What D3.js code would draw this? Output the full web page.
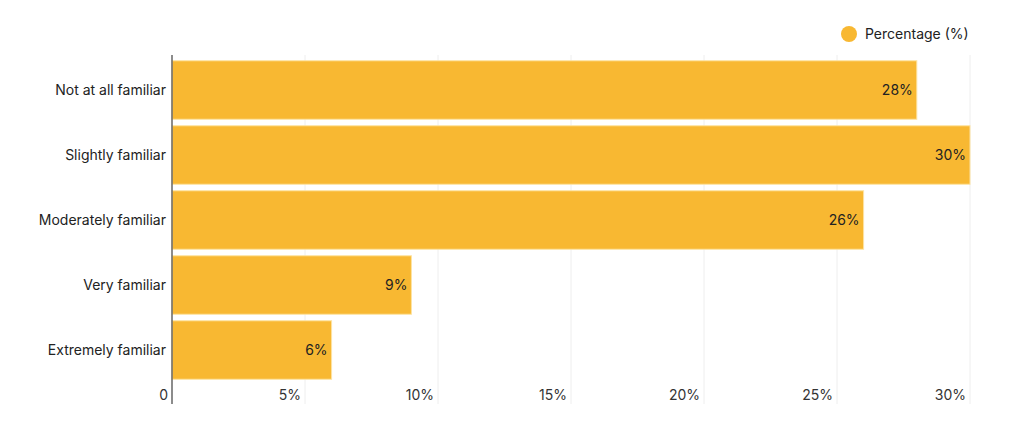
<!DOCTYPE html>
<html>
<head>
  <meta charset="utf-8">
  <script src="https://cdn.jsdelivr.net/npm/d3@7"></script>
  <style>
    body { margin: 0; background: #fff; }
    text { font-family: Inter, "Noto Sans", sans-serif; }
  </style>
</head>
<body>
<div id="chart"></div>
<script>
  var width = 1024;
  var height = 429;

  var categories = ["Not at all familiar", "Slightly familiar", "Moderately familiar", "Very familiar", "Extremely familiar"];
  var values = [28, 30, 26, 9, 6];
  var ticks = [0, 5, 10, 15, 20, 25, 30];
  var seriesName = "Percentage (%)";

  // plot box (note: "top" is reserved on window, so use plot* names)
  var plotLeft = 172, plotRight = 970, plotTop = 57.5, plotBottom = 382.5;
  var barColor = "#f8b832";

  var x = d3.scaleLinear().domain([0, 30]).range([plotLeft, plotRight]);
  var y = d3.scaleBand().domain(categories).range([plotTop, plotBottom])
            .paddingInner(0.1).paddingOuter(0.05);

  var svg = d3.select("#chart").append("svg")
              .attr("width", width)
              .attr("height", height);

  // grid lines
  svg.append("g").selectAll("line")
     .data(ticks.slice(1))
     .join("line")
     .attr("x1", d => x(d)).attr("x2", d => x(d))
     .attr("y1", 55).attr("y2", 404)
     .attr("stroke", "#eeeeee")
     .attr("stroke-width", 1);

  // bars
  svg.append("g").selectAll("rect")
     .data(values)
     .join("rect")
     .attr("x", x(0))
     .attr("y", (d, i) => y(categories[i]))
     .attr("width", d => x(d) - x(0))
     .attr("height", y.bandwidth())
     .attr("fill", barColor)
     .attr("stroke", "#fde3a3")
     .attr("stroke-width", 1);

  // value labels
  svg.append("g").selectAll("text")
     .data(values)
     .join("text")
     .attr("x", d => x(d) - 4)
     .attr("y", (d, i) => y(categories[i]) + y.bandwidth() / 2)
     .attr("dy", "0.35em")
     .attr("text-anchor", "end")
     .attr("font-size", 14)
     .attr("fill", "#222")
     .text(d => d + "%");

  // y axis line
  svg.append("line")
     .attr("x1", plotLeft).attr("x2", plotLeft)
     .attr("y1", 55).attr("y2", 404)
     .attr("stroke", "#666")
     .attr("stroke-width", 1.5);

  // category labels
  svg.append("g").selectAll("text")
     .data(categories)
     .join("text")
     .attr("x", plotLeft - 6)
     .attr("y", d => y(d) + y.bandwidth() / 2)
     .attr("dy", "0.35em")
     .attr("text-anchor", "end")
     .attr("font-size", 14)
     .attr("fill", "#222")
     .text(d => d);

  // x tick labels
  svg.append("g").selectAll("text")
     .data(ticks)
     .join("text")
     .attr("x", d => x(d) - 4)
     .attr("y", 400)
     .attr("text-anchor", "end")
     .attr("font-size", 14)
     .attr("fill", "#333")
     .text(d => d === 0 ? "0" : d + "%");

  // legend
  var legend = svg.append("g");
  legend.append("circle")
        .attr("cx", 849).attr("cy", 34).attr("r", 8)
        .attr("fill", barColor);
  legend.append("text")
        .attr("x", 865).attr("y", 34)
        .attr("dy", "0.35em")
        .attr("font-size", 14)
        .attr("fill", "#222")
        .text(seriesName);
</script>
</body>
</html>
